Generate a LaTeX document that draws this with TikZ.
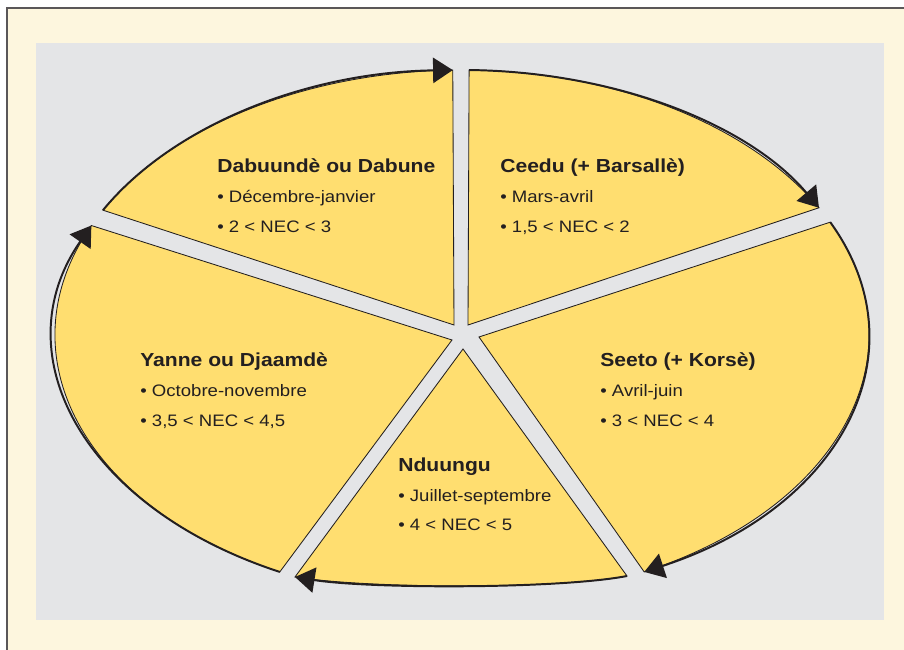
\documentclass[tikz,border=0pt]{standalone}
\usepackage{fontspec}
\setmainfont[FakeStretch=1.12]{Liberation Sans}
\usetikzlibrary{arrows.meta}
\definecolor{cream}{RGB}{253,246,222}
\definecolor{panel}{RGB}{228,229,231}
\definecolor{sunny}{RGB}{255,222,112}
\definecolor{ink}{RGB}{35,31,32}
\tikzset{
  piece/.style={fill=sunny, draw=ink, line width=0.6pt, line join=miter},
  rim/.style={draw=ink, line width=1.4pt, -{Triangle[length=14pt, width=18pt]}},
  title/.style={anchor=base west, inner sep=0pt, font=\fontsize{13.4}{15}\selectfont\bfseries, text=ink},
  item/.style={anchor=base west, inner sep=0pt, font=\fontsize{11.8}{13}\selectfont, text=ink}
}
\begin{document}
\begin{tikzpicture}[x=0.025cm, y=0.025cm]
  \useasboundingbox (0,0) rectangle (904,650);
  % frame and panel
  \fill[white] (0,0) rectangle (904,650);
  \fill[cream] (7,0) rectangle (904,642);
  \draw[ink!75, line width=1.4pt] (7,0) -- (7,642) -- (904,642);
  \fill[panel] (36,30) rectangle (884,607);
  \coordinate (c) at (462,315);
  % the five seasons
  \draw[piece] (454,325) -- ([shift={(c)}]151.9:407 and 265)
    arc[start angle=151.9, end angle=91.3, x radius=407, y radius=265] -- cycle;
  \draw[piece] (468,325) -- ([shift={(c)}]89:407 and 265)
    arc[start angle=89, end angle=28.7, x radius=407, y radius=265] -- cycle;
  \draw[piece] (479,313) -- ([shift={(c)}]25.2:407 and 265)
    arc[start angle=25.2, end angle=-63.4, x radius=407, y radius=265] -- cycle;
  \draw[piece] (463,301) -- (627,74) .. controls (560,61) and (370,61) .. (295,73) -- cycle;
  \draw[piece] (452,310) -- ([shift={(c)}]243.4:407 and 265)
    arc[start angle=243.4, end angle=155.6, x radius=407, y radius=265] -- cycle;
  % rims with arrows
  \draw[rim] ([shift={(c)}]151.9:407 and 265)
    arc[start angle=151.9, end angle=91.3, x radius=407, y radius=265];
  \draw[rim] ([shift={(c)}]89:407 and 265)
    arc[start angle=89, end angle=28.7, x radius=407, y radius=265];
  \draw[rim] ([shift={(c)}]25.2:407 and 265)
    arc[start angle=25.2, end angle=-63.4, x radius=407, y radius=265];
  \draw[rim] (627,74) .. controls (560,61) and (370,61) .. (295,73);
  \draw[rim] ([shift={(c)}]243.4:407 and 265)
    arc[start angle=243.4, end angle=155.6, x radius=407, y radius=265];
  % labels
  \node[title] (dab) at (217,477) {Dabuundè ou Dabune};
  \node[item] (dab-m) at (217,447) {• Décembre-janvier};
  \node[item] (dab-n) at (217,417) {• 2 < NEC < 3};
  \node[title] (cee) at (500,477) {Ceedu (+ Barsallè)};
  \node[item] (cee-m) at (500,447) {• Mars-avril};
  \node[item] (cee-n) at (500,417) {• 1,5 < NEC < 2};
  \node[title] (see) at (600,283) {Seeto (+ Korsè)};
  \node[item] (see-m) at (600,253) {• Avril-juin};
  \node[item] (see-n) at (600,223) {• 3 < NEC < 4};
  \node[title] (ndu) at (398,178) {Nduungu};
  \node[item] (ndu-m) at (398,148) {• Juillet-septembre};
  \node[item] (ndu-n) at (398,119) {• 4 < NEC < 5};
  \node[title] (yan) at (140,283) {Yanne ou Djaamdè};
  \node[item] (yan-m) at (140,253) {• Octobre-novembre};
  \node[item] (yan-n) at (140,223) {• 3,5 < NEC < 4,5};
\end{tikzpicture}
\end{document}
